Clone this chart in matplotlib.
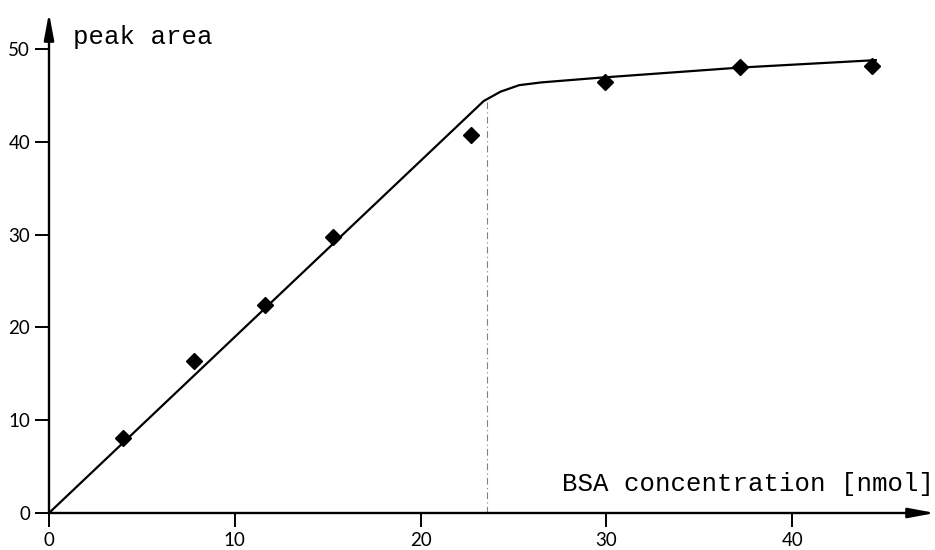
import matplotlib
matplotlib.use("Agg")
import matplotlib.pyplot as plt

# measured data points (BSA concentration, peak area)
conc = [4.0, 7.8, 11.6, 15.3, 22.7, 29.9, 37.2, 44.3]
area = [8.1, 16.4, 22.4, 29.7, 40.7, 46.4, 48.1, 48.2]

# fitted curve as drawn in the original
curve_x = [0, 23.4, 24.3, 25.3, 26.5, 29.6, 37.2, 44.5]
curve_y = [0, 44.4, 45.4, 46.1, 46.4, 46.9, 48.0, 48.8]

# saturation marker
knee_x = 23.6
knee_y = 44.4

xticks = [0, 10, 20, 30, 40]
yticks = [0, 10, 20, 30, 40, 50]

W, H = 935, 550
fig = plt.figure(figsize=(W / 100, H / 100), dpi=100)
left_px, right_px, bottom_px, top_px = 49, 935, 513, 13
ax = fig.add_axes([left_px / W, (H - bottom_px) / H,
                   (right_px - left_px) / W, (bottom_px - top_px) / H])
ax.set_xlim(0, (right_px - left_px) / 18.58)
ax.set_ylim(0, (bottom_px - top_px) / 9.28)

for s in ax.spines.values():
    s.set_visible(False)

# axis lines with arrow heads
arrow_kw = dict(arrowstyle='-|>,head_length=1.6,head_width=0.3',
                lw=1.7, color='black', mutation_scale=10, shrinkA=0, shrinkB=0)
ax.annotate('', xy=(1, 0), xytext=(0, 0), xycoords='axes fraction',
            textcoords='axes fraction', arrowprops=arrow_kw, annotation_clip=False)
ax.annotate('', xy=(0, 1), xytext=(0, 0), xycoords='axes fraction',
            textcoords='axes fraction', arrowprops=arrow_kw, annotation_clip=False)

ax.set_xticks(xticks)
ax.set_yticks(yticks)
ax.set_xticklabels([str(t) for t in xticks])
ax.set_yticklabels([str(t) for t in yticks])
ax.tick_params(axis='both', direction='out', length=10, width=1.4, pad=3.5,
               labelsize=13.5, colors='black')
for lab in ax.get_xticklabels() + ax.get_yticklabels():
    lab.set_family(['Lato', 'DejaVu Sans'])

# fitted curve
ax.plot(curve_x, curve_y, color='black', lw=1.6, solid_joinstyle='round',
        clip_on=False)
# dash-dot vertical line at the knee
ax.plot([knee_x, knee_x], [0, knee_y], color='0.5', lw=0.8,
        linestyle=(0, (6, 3, 1, 3)))
# data points
ax.plot(conc, area, linestyle='none', marker='D', ms=8, color='black',
        clip_on=False)

mono = ['Liberation Mono', 'DejaVu Sans Mono']
ax.text(1.3, 50.5, 'peak area', family=mono, fontsize=18.5, va='baseline',
        ha='left')
ax.text(27.6, 2.4, 'BSA concentration [nmol]', family=mono, fontsize=18.5,
        va='baseline', ha='left')

fig.savefig('out.png', dpi=100)
